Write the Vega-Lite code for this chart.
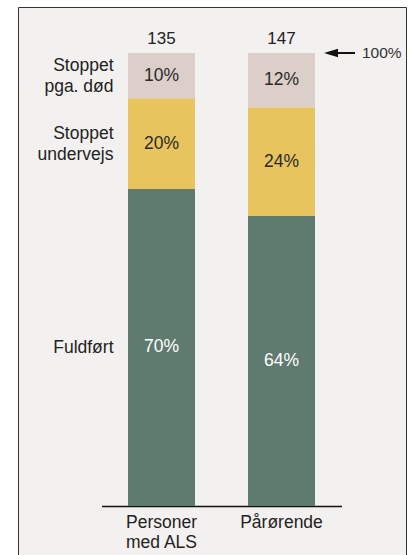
{
  "$schema": "https://vega.github.io/schema/vega-lite/v6.json",
  "width": 388,
  "height": 548,
  "autosize": "none",
  "padding": {"left": 18, "top": 7, "right": 10, "bottom": 0},
  "background": "white",
  "config": {
    "view": {"fill": "#f2f1ef", "stroke": "#333333", "strokeWidth": 1},
    "font": "Liberation Sans"
  },
  "data": {
    "values": [
      {"grp": "Personer med ALS", "seg": "Fuldført", "k": 1, "pct": 0.70, "n": 135},
      {"grp": "Personer med ALS", "seg": "Stoppet undervejs", "k": 2, "pct": 0.20, "n": 135},
      {"grp": "Personer med ALS", "seg": "Stoppet pga. død", "k": 3, "pct": 0.10, "n": 135},
      {"grp": "Pårørende", "seg": "Fuldført", "k": 1, "pct": 0.64, "n": 147},
      {"grp": "Pårørende", "seg": "Stoppet undervejs", "k": 2, "pct": 0.24, "n": 147},
      {"grp": "Pårørende", "seg": "Stoppet pga. død", "k": 3, "pct": 0.12, "n": 147}
    ]
  },
  "transform": [
    {"stack": "pct", "groupby": ["grp"], "sort": [{"field": "k", "order": "ascending"}], "as": ["y0", "y1"]},
    {"calculate": "(datum.y0 + datum.y1) / 2", "as": "ym"}
  ],
  "layer": [
    {
      "mark": {"type": "bar"},
      "encoding": {
        "x": {
          "field": "grp", "type": "nominal",
          "scale": {"domain": ["Personer med ALS", "Pårørende"], "range": [83.5, 323.5], "paddingInner": 0.4417, "paddingOuter": 0.2208},
          "axis": {
            "title": null, "orient": "bottom", "offset": -49,
            "domainColor": "#111111", "domainWidth": 1.5, "ticks": false,
            "labelAngle": 0, "labelFontSize": 17.5, "labelColor": "#222222",
            "labelPadding": 7, "labelLineHeight": 20, "labelBaseline": "top",
            "labelExpr": "datum.label == 'Personer med ALS' ? ['Personer', 'med ALS'] : datum.label"
          }
        },
        "y": {
          "field": "y1", "type": "quantitative",
          "scale": {"domain": [0, 1], "range": [499, 46]},
          "axis": {
            "title": null, "orient": "left", "offset": -95,
            "values": [0.35, 0.822, 0.972],
            "domain": false, "ticks": false, "grid": false,
            "labelFontSize": 17.5, "labelColor": "#222222", "labelPadding": 0,
            "labelLineHeight": 20.5, "labelBaseline": "middle",
            "labelExpr": "datum.value > 0.9 ? ['Stoppet', 'pga. død'] : datum.value > 0.5 ? ['Stoppet', 'undervejs'] : 'Fuldført'"
          }
        },
        "y2": {"field": "y0"},
        "color": {
          "field": "seg", "type": "nominal",
          "scale": {"domain": ["Fuldført", "Stoppet undervejs", "Stoppet pga. død"], "range": ["#5f7a6f", "#e8c45e", "#dccec8"]},
          "legend": null
        }
      }
    },
    {
      "mark": {"type": "text", "fontSize": 17.5, "baseline": "middle", "align": "center"},
      "encoding": {
        "x": {"field": "grp", "type": "nominal", "bandPosition": 0.5},
        "y": {"field": "ym", "type": "quantitative"},
        "text": {"field": "pct", "format": ".0%"},
        "color": {"condition": {"test": "datum.seg == 'Fuldført'", "value": "white"}, "value": "#2a2a2a"}
      }
    },
    {
      "transform": [{"filter": "datum.k == 3"}],
      "mark": {"type": "text", "fontSize": 17, "baseline": "alphabetic", "align": "center", "dy": -9, "color": "#222222"},
      "encoding": {
        "x": {"field": "grp", "type": "nominal", "bandPosition": 0.5},
        "y": {"datum": 1},
        "text": {"field": "n"}
      }
    },
    {
      "transform": [{"filter": "datum.k == 3 && datum.grp == 'Pårørende'"}],
      "mark": {"type": "rule", "color": "#111111", "strokeWidth": 2, "xOffset": 18, "x2Offset": 40},
      "encoding": {
        "x": {"field": "grp", "type": "nominal", "bandPosition": 1},
        "x2": {"field": "grp", "bandPosition": 1},
        "y": {"datum": 1}
      }
    },
    {
      "transform": [{"filter": "datum.k == 3 && datum.grp == 'Pårørende'"}],
      "mark": {"type": "point", "shape": "M -1 0 L 1 -0.6 L 1 0.6 Z", "filled": true, "color": "#111111", "size": 196, "opacity": 1, "xOffset": 16, "strokeWidth": 0},
      "encoding": {
        "x": {"field": "grp", "type": "nominal", "bandPosition": 1},
        "y": {"datum": 1}
      }
    },
    {
      "transform": [{"filter": "datum.k == 3 && datum.grp == 'Pårørende'"}],
      "mark": {"type": "text", "fontSize": 15.5, "baseline": "middle", "align": "left", "dx": 47, "color": "#333333", "text": "100%"},
      "encoding": {
        "x": {"field": "grp", "type": "nominal", "bandPosition": 1},
        "y": {"datum": 1}
      }
    }
  ]
}
